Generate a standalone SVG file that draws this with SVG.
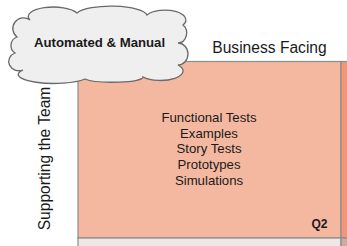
<svg xmlns="http://www.w3.org/2000/svg" width="347" height="246" viewBox="0 0 347 246">
  <style>
    .lbl { font-family: "Liberation Sans", Arial, sans-serif; fill: #1a1a1a; }
    .quad { stroke: #8c8c8c; stroke-width: 1.2; }
  </style>
  <rect x="0" y="0" width="347" height="246" fill="#ffffff"/>
  <g id="q2">
    <rect class="quad" x="78" y="61.5" width="263" height="176.5" fill="#f4b8a1"/>
    <text class="lbl" x="209" y="122.3" font-size="13.2" text-anchor="middle">Functional Tests</text>
    <text class="lbl" x="209" y="137.8" font-size="13.2" text-anchor="middle">Examples</text>
    <text class="lbl" x="209" y="153.4" font-size="13.2" text-anchor="middle">Story Tests</text>
    <text class="lbl" x="209" y="169" font-size="13.2" text-anchor="middle">Prototypes</text>
    <text class="lbl" x="209" y="184.8" font-size="13.2" text-anchor="middle">Simulations</text>
    <text class="lbl" x="327.5" y="228.3" font-size="12" font-weight="bold" text-anchor="end">Q2</text>
  </g>
  <g id="q1">
    <rect class="quad" x="341" y="61.5" width="10" height="176.5" fill="#f2967b"/>
  </g>
  <g id="q3">
    <rect class="quad" x="78" y="238" width="263" height="12" fill="#eee7e5"/>
  </g>
  <g id="q4">
    <rect class="quad" x="341" y="238" width="10" height="12" fill="#cdaba0"/>
  </g>
  <g id="axis-top">
    <text class="lbl" x="269.5" y="53" font-size="15.6" text-anchor="middle">Business Facing</text>
  </g>
  <g id="axis-left">
    <text class="lbl" transform="translate(50 158.5) rotate(-90)" x="0" y="0" font-size="15.6" text-anchor="middle">Supporting the Team</text>
  </g>
  <g id="cloud">
    <path d="M 23,70 A 10,9 0 0 1 15,53 A 9,9 0 0 1 17,37 A 10,10 0 0 1 30,20 A 24,9 0 0 1 77,13 A 36,10 0 0 1 147,15 A 19,9 0 0 1 183,25 A 9,10 0 0 1 178,43 A 10,11 0 0 1 178,65 A 19,8 0 0 1 143,77 A 30,5 0 0 1 85,79 A 32,8 0 0 1 23,70 Z" fill="#f0eff0" stroke="#6a6a6a" stroke-width="1.3"/>
    <text class="lbl" x="99.5" y="47" font-size="13.2" font-weight="bold" text-anchor="middle">Automated &amp; Manual</text>
  </g>
</svg>
